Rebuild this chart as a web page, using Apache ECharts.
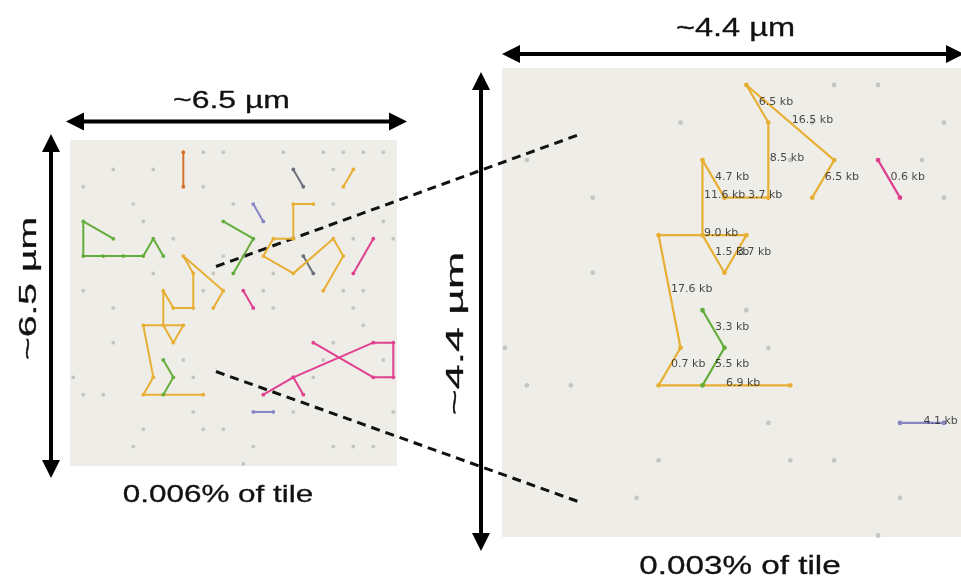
<!DOCTYPE html>
<html>
<head>
<meta charset="utf-8">
<script src="https://cdn.jsdelivr.net/npm/echarts@6.0.0/dist/echarts.min.js"></script>
<style>
  html, body { margin: 0; padding: 0; background: #ffffff; }
  #chart { width: 961px; height: 583px; }
</style>
</head>
<body>
<div id="chart"></div>
<script>
// Positions are in lattice units: col = half the bead spacing along x, row = lattice row (downwards).

// Unoccupied beads on the hexagonal lattice
const beads = [
  [13,-6],[15,-6],[21,-6],[25,-6],[27,-6],[29,-6],[31,-6],
  [4,-5],[8,-5],[26,-5],
  [1,-4],[13,-4],
  [6,-3],[16,-3],[26,-3],
  [7,-2],[31,-2],
  [10,-1],[28,-1],[32,-1],
  [15,0],[17,0],
  [8,1],[14,1],[20,1],
  [1,2],[13,2],[19,2],[27,2],[29,2],
  [4,3],[20,3],[28,3],
  [29,4],
  [4,5],[26,5],
  [11,6],[25,6],[31,6],
  [0,7],[12,7],[24,7],
  [1,8],[3,8],
  [12,9],[22,9],[32,9],
  [7,10],[13,10],[15,10],
  [6,11],[18,11],[26,11],[28,11],[30,11],
  [17,12]
];

// Molecule traces (bead positions in path order)
const yellowLong   = [[14,3],[15,2],[11,0],[12,1],[12,3],[10,3],[9,2],[9,4],[10,5],[11,4],[7,4],[8,7],[7,8],[13,8]];
const yellowLongKb = [6.5, 16.5, 6.5, 8.5, 3.7, 4.7, 11.6, 1.5, 3.7, 9.0, 17.6, 0.7, 6.9];
const greenShort   = [[9,6],[10,7],[9,8]];
const greenShortKb = [3.3, 5.5];
const pinkShort    = [[17,2],[18,3]];
const pinkShortKb  = [0.6];
const purpleShort  = [[18,9],[20,9]];
const purpleShortKb = [4.1];

const greenLeft    = [[4,-1],[1,-2],[1,0],[3,0],[5,0],[7,0],[8,-1],[9,0]];
const greenMid     = [[15,-2],[18,-1],[16,1]];
const orangeTop    = [[11,-6],[11,-4]];
const slateTop     = [[22,-5],[23,-4]];
const slateMid     = [[23,0],[24,1]];
const purpleTop    = [[18,-3],[19,-2]];
const yellowSmall  = [[28,-5],[27,-4]];
const yellowMid    = [[24,-3],[22,-3],[22,-1],[20,-1],[19,0],[22,1],[26,-1],[27,0],[25,2]];
const pinkRight    = [[30,-1],[28,1]];
const pinkLong     = [[24,5],[30,7],[32,7],[32,5],[30,5],[22,7],[19,8]];
const pinkBranch   = [[22,7],[23,8]];

const C = {
  yellow: '#E8AF35', green: '#65AD3B', pink: '#E0408F', purple: '#8686C4',
  orange: '#D4712E', slate: '#6C707C', bead: '#BBBBB8', panel: '#EEEDE7'
};

const traces = [
  { pts: greenLeft,   color: C.green },
  { pts: greenMid,    color: C.green },
  { pts: orangeTop,   color: C.orange },
  { pts: slateTop,    color: C.slate },
  { pts: slateMid,    color: C.slate },
  { pts: purpleTop,   color: C.purple },
  { pts: yellowSmall, color: C.yellow },
  { pts: yellowMid,   color: C.yellow },
  { pts: pinkRight,   color: C.pink },
  { pts: pinkLong,    color: C.pink },
  { pts: pinkBranch,  color: C.pink },
  { pts: yellowLong,  color: C.yellow, kb: yellowLongKb, zoom: true },
  { pts: greenShort,  color: C.green,  kb: greenShortKb, zoom: true },
  { pts: pinkShort,   color: C.pink,   kb: pinkShortKb,  zoom: true },
  { pts: purpleShort, color: C.purple, kb: purpleShortKb, zoom: true }
];

const series = [];

function addPanel(idx, dotSize, lineW, list) {
  series.push({
    type: 'scatter', xAxisIndex: idx, yAxisIndex: idx, silent: true,
    data: beads, symbolSize: dotSize, itemStyle: { color: C.bead }, z: 2
  });
  list.forEach(t => {
    series.push({
      type: 'line', xAxisIndex: idx, yAxisIndex: idx, silent: true,
      data: t.pts, symbol: 'circle', symbolSize: dotSize, showSymbol: true,
      lineStyle: { color: t.color, width: lineW }, itemStyle: { color: t.color },
      z: 3
    });
  });
}

addPanel(0, 3.8, 2, traces);
addPanel(1, 4.8, 2.2, traces.filter(t => t.zoom));

// Segment length labels, placed at each segment's midpoint
const labelData = [];
traces.filter(t => t.zoom).forEach(t => {
  t.kb.forEach((v, i) => {
    const a = t.pts[i], b = t.pts[i + 1];
    labelData.push([(a[0] + b[0]) / 2, (a[1] + b[1]) / 2, v]);
  });
});
series.push({
  type: 'scatter', xAxisIndex: 1, yAxisIndex: 1, silent: true, z: 5,
  data: labelData, symbolSize: 1, itemStyle: { color: 'rgba(0,0,0,0)' },
  label: {
    show: true, position: 'right', distance: 0, offset: [1, -2],
    formatter: p => p.value[2].toFixed(1) + ' kb',
    fontFamily: 'DejaVu Sans', fontSize: 11, color: '#1c1c1c'
  }
});

// Annotation helpers
function hArrow(x1, x2, y, w, L, H) {
  return [
    { type: 'line', shape: { x1: x1 + L - 2, y1: y, x2: x2 - L + 2, y2: y }, style: { stroke: '#000', lineWidth: w } },
    { type: 'polygon', shape: { points: [[x1, y], [x1 + L, y - H], [x1 + L, y + H]] }, style: { fill: '#000' } },
    { type: 'polygon', shape: { points: [[x2, y], [x2 - L, y - H], [x2 - L, y + H]] }, style: { fill: '#000' } }
  ];
}
function vArrow(x, y1, y2, w, L, H) {
  return [
    { type: 'line', shape: { x1: x, y1: y1 + L - 2, x2: x, y2: y2 - L + 2 }, style: { stroke: '#000', lineWidth: w } },
    { type: 'polygon', shape: { points: [[x, y1], [x - H, y1 + L], [x + H, y1 + L]] }, style: { fill: '#000' } },
    { type: 'polygon', shape: { points: [[x, y2], [x - H, y2 - L], [x + H, y2 - L]] }, style: { fill: '#000' } }
  ];
}
function label(text, x, y, size, sx, rot) {
  return {
    type: 'text', x: x, y: y, scaleX: sx, rotation: rot || 0,
    style: {
      text: text, fontFamily: 'Liberation Sans', fontSize: size, fill: '#111',
      stroke: '#111', lineWidth: 0.3,
      align: 'center', verticalAlign: 'middle'
    }
  };
}
function dashed(x1, y1, x2, y2) {
  return { type: 'line', shape: { x1, y1, x2, y2 }, style: { stroke: '#111', lineWidth: 3, lineDash: [9, 6] } };
}

const graphic = [].concat(
  hArrow(66, 407, 121.5, 4, 18, 9),
  hArrow(502, 964, 54, 4, 18, 9),
  vArrow(51, 134, 478, 4, 18, 9),
  vArrow(481, 72, 551, 4, 18, 9),
  [
    label('~6.5 µm', 231.5, 101, 24, 1.33, 0),
    label('~4.4 µm', 735.5, 29, 26, 1.25, 0),
    label('~6.5 µm', 29, 288.5, 24, 1.63, Math.PI / 2),
    label('~4.4 µm', 456, 333.5, 24, 1.86, Math.PI / 2),
    label('0.006% of tile', 218, 495, 24, 1.31, 0),
    label('0.003% of tile', 740, 567, 25, 1.33, 0),
    dashed(216, 266.5, 578, 135),
    dashed(216, 371.5, 578, 501.5)
  ]
);

const chart = echarts.init(document.getElementById('chart'), null, { renderer: 'canvas' });
chart.setOption({
  animation: false,
  backgroundColor: '#ffffff',
  grid: [
    { left: 70, top: 140, width: 327, height: 326, show: true, backgroundColor: C.panel, borderWidth: 0 },
    { left: 502, top: 68, width: 459, height: 469, show: true, backgroundColor: C.panel, borderWidth: 0 }
  ],
  xAxis: [
    { type: 'value', gridIndex: 0, min: -0.33, max: 32.37, show: false },
    { type: 'value', gridIndex: 1, min: -0.137, max: 20.78, show: false }
  ],
  yAxis: [
    { type: 'value', gridIndex: 0, min: -6.70, max: 12.12, inverse: true, show: false },
    { type: 'value', gridIndex: 1, min: -0.453, max: 12.04, inverse: true, show: false }
  ],
  series: series,
  graphic: graphic
});
</script>
</body>
</html>
